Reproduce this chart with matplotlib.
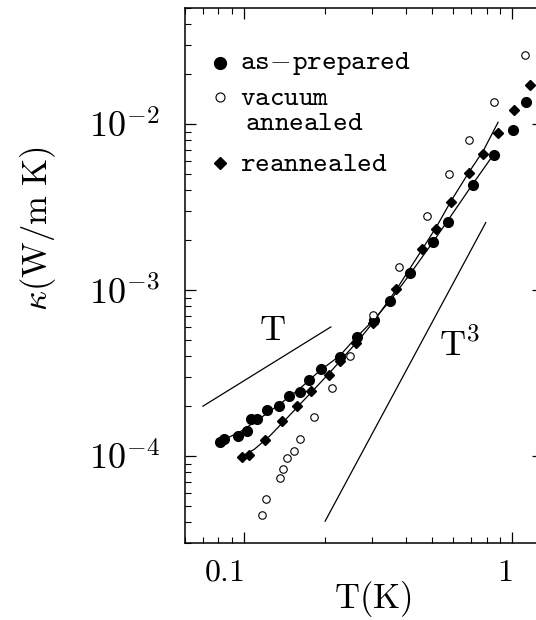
import matplotlib
matplotlib.use("Agg")
import matplotlib.pyplot as plt

plt.rcParams['mathtext.fontset'] = 'cm'
plt.rcParams['font.family'] = ['DejaVu Serif']

# ---- data ----
asprep_T = [0.0809, 0.0838, 0.0948, 0.1019, 0.1059, 0.1113, 0.1212, 0.1343, 0.1464,
            0.1616, 0.1734, 0.1934, 0.2274, 0.2628, 0.3033, 0.3501, 0.4159, 0.5069,
            0.5745, 0.7106, 0.8538, 1.005, 1.119]
asprep_k = [1.219e-4, 1.270e-4, 1.315e-4, 1.422e-4, 1.675e-4, 1.675e-4, 1.902e-4,
            2.016e-4, 2.318e-4, 2.440e-4, 2.860e-4, 3.363e-4, 3.959e-4, 5.242e-4,
            6.603e-4, 8.623e-4, 1.260e-3, 1.942e-3, 2.572e-3, 4.272e-3, 6.531e-3,
            9.18e-3, 1.352e-2]

vac_T = [0.1158, 0.1206, 0.1357, 0.1390, 0.1447, 0.1528, 0.1609, 0.1814, 0.2113,
         0.2474, 0.3015, 0.3770, 0.4806, 0.5815, 0.6879, 0.8565, 1.118]
vac_k = [4.452e-5, 5.556e-5, 7.396e-5, 8.332e-5, 9.70e-5, 1.079e-4, 1.269e-4,
         1.719e-4, 2.568e-4, 4.025e-4, 7.075e-4, 1.369e-3, 2.802e-3, 5.022e-3,
         8.047e-3, 1.357e-2, 2.615e-2]

rean_T = [0.0980, 0.1041, 0.1190, 0.1378, 0.1571, 0.1775, 0.2061, 0.2280, 0.2603,
          0.3015, 0.3686, 0.4583, 0.5188, 0.5917, 0.6883, 0.7792, 0.8835, 1.014, 1.165]
rean_k = [9.86e-5, 1.021e-4, 1.257e-4, 1.629e-4, 2.016e-4, 2.481e-4, 3.099e-4,
          3.762e-4, 4.805e-4, 6.310e-4, 1.010e-3, 1.770e-3, 2.348e-3, 3.377e-3,
          5.043e-3, 6.622e-3, 8.806e-3, 1.217e-2, 1.722e-2]

# fitted curves
fit_asprep_T = [0.0784, 0.0958, 0.1138, 0.1351, 0.1605, 0.1906, 0.2264, 0.2621,
                0.3033, 0.3510, 0.4170, 0.5052, 0.5745, 0.7124, 0.8538]
fit_asprep_k = [1.197e-4, 1.393e-4, 1.680e-4, 2.053e-4, 2.543e-4, 3.262e-4,
                4.013e-4, 5.221e-4, 6.603e-4, 8.707e-4, 1.265e-3, 1.950e-3,
                2.633e-3, 4.373e-3, 6.622e-3]
fit_rean_T = [0.0958, 0.1090, 0.1240, 0.1410, 0.1605, 0.1826, 0.2077, 0.2363, 0.2690,
              0.3007, 0.3697, 0.4378, 0.5200, 0.5917, 0.6883, 0.7792, 0.8835]
fit_rean_k = [9.75e-5, 1.102e-4, 1.318e-4, 1.633e-4, 2.039e-4, 2.543e-4, 3.172e-4,
              4.013e-4, 5.078e-4, 6.334e-4, 1.014e-3, 1.550e-3, 2.400e-3, 3.471e-3,
              5.134e-3, 6.930e-3, 1.025e-2]

# guide lines
lineT_T = [0.07, 0.21]
lineT_k = [2.0e-4, 6.0e-4]
lineT3_T = [0.20, 0.795]
lineT3_k = [4.06e-5, 2.55e-3]

xtick_vals = [0.1, 1]
xtick_labels = [r'$0.1$', r'$1$']
ytick_vals = [1e-4, 1e-3, 1e-2]
ytick_labels = [r'$10^{-4}$', r'$10^{-3}$', r'$10^{-2}$']

legend_labels = [r'$\mathtt{as\!-\!prepared}$', r'$\mathtt{vacuum}$', r'$\mathtt{annealed}$',
                 r'$\mathtt{reannealed}$']

# ---- figure ----
fig = plt.figure(figsize=(5.36, 6.20), dpi=100)
ax = fig.add_axes([0.3451, 0.1242, 0.668, 0.8629])
ax.set_xscale('log')
ax.set_yscale('log')
ax.set_xlim(0.06, 1.3)
ax.set_ylim(3e-5, 5e-2)

ax.plot(fit_asprep_T, fit_asprep_k, color='black', lw=0.9)
ax.plot(fit_rean_T, fit_rean_k, color='black', lw=0.9)
ax.plot(lineT_T, lineT_k, color='black', lw=0.9)
ax.plot(lineT3_T, lineT3_k, color='black', lw=0.9)

ax.plot(asprep_T, asprep_k, 'o', ms=7, mfc='black', mec='black', ls='none')
ax.plot(vac_T, vac_k, 'o', ms=5.4, mfc='white', mec='black', mew=0.8, ls='none')
ax.plot(rean_T, rean_k, 'D', ms=5.2, mfc='black', mec='black', ls='none')

ax.text(0.1272, 5.75e-4, r'$\mathrm{T}$', fontsize=26, ha='center', va='center')
ax.text(0.6355, 4.67e-4, r'$\mathrm{T}^3$', fontsize=26, ha='center', va='center')

# legend drawn manually
tr = ax.transAxes
ax.plot([0.0978], [0.8966], 'o', ms=8.5, color='black', transform=tr)
ax.plot([0.0978], [0.8342], 'o', ms=6.5, mfc='white', mec='black', mew=0.8, transform=tr)
ax.plot([0.0978], [0.7097], 'D', ms=6, color='black', transform=tr)
ax.text(0.1536, 0.8966, legend_labels[0], transform=tr, fontsize=20, va='center', ha='left')
ax.text(0.1536, 0.8318, legend_labels[1], transform=tr, fontsize=20, va='center', ha='left')
ax.text(0.1676, 0.7856, legend_labels[2], transform=tr, fontsize=20, va='center', ha='left')
ax.text(0.1536, 0.7097, legend_labels[3], transform=tr, fontsize=20, va='center', ha='left')

ax.set_xticks(xtick_vals)
ax.set_xticklabels(xtick_labels, fontsize=23, ha='right')
ax.set_yticks(ytick_vals)
ax.set_yticklabels(ytick_labels, fontsize=26)

ax.tick_params(which='both', direction='in', top=True, right=True, color='black')
ax.tick_params(which='major', length=8, width=0.9)
ax.tick_params(which='minor', length=4, width=0.8)
ax.tick_params(axis='y', which='major', pad=18)
ax.tick_params(axis='x', which='major', pad=10)
for s in ax.spines.values():
    s.set_linewidth(1.1)

ax.set_xlabel(r'$\mathrm{T(K)}$', fontsize=25, va='center')
ax.xaxis.set_label_coords(0.525, -0.104)
ax.set_ylabel(r'$\kappa\mathrm{(W/m\ K)}$', fontsize=25, va='center')
ax.yaxis.set_label_coords(-0.4106, 0.5869)

fig.savefig('out.png', dpi=100)
